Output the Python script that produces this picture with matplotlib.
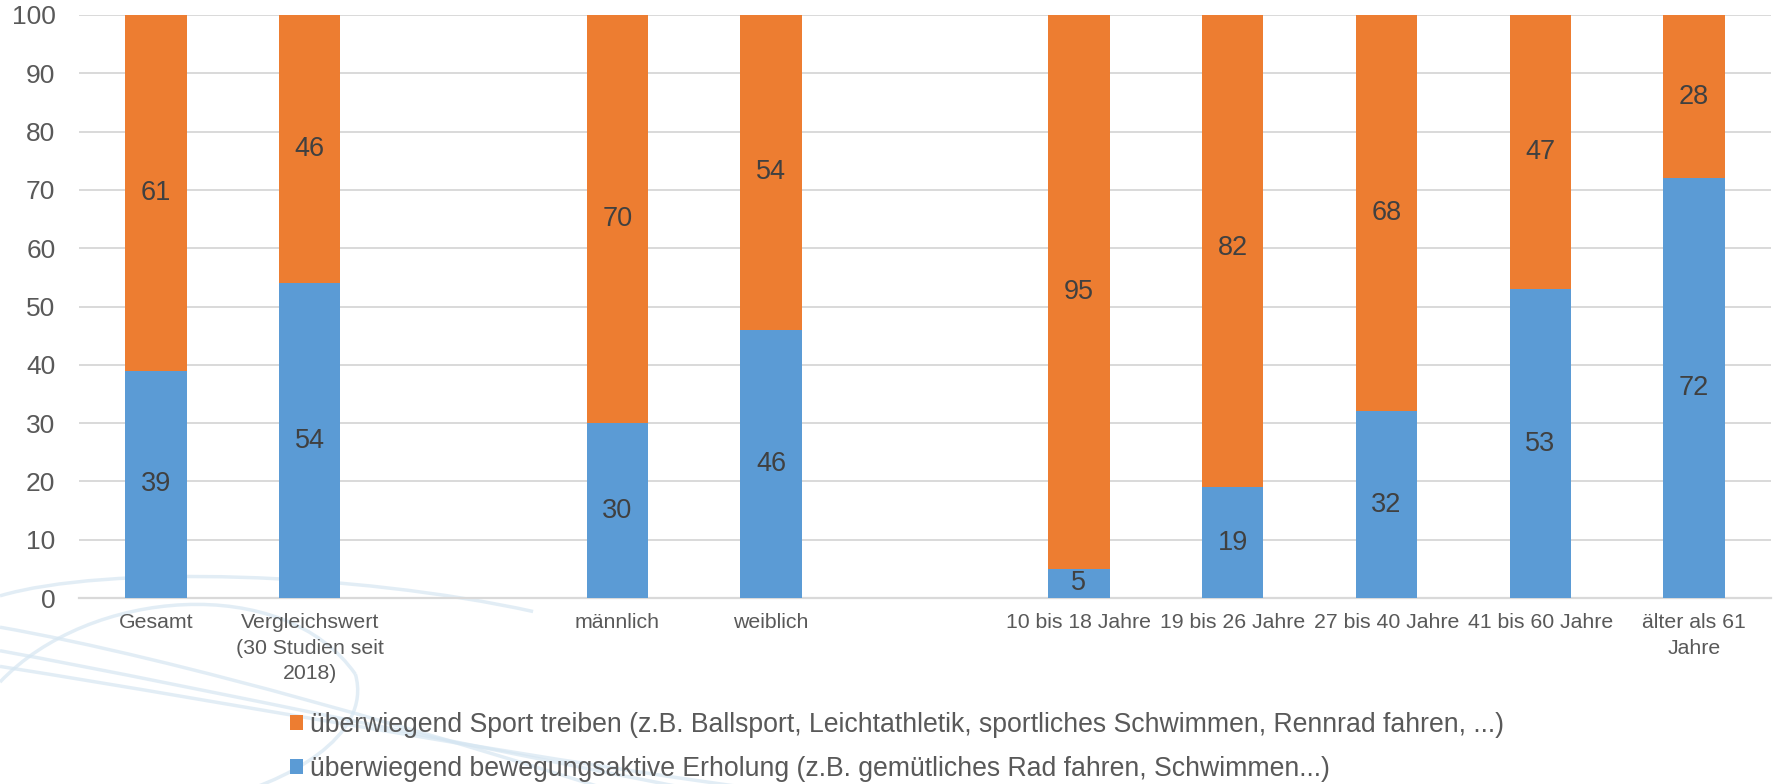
import matplotlib
matplotlib.use("Agg")
import matplotlib.pyplot as plt
from matplotlib.path import Path
from matplotlib.patches import PathPatch
import numpy as np

categories = ["Gesamt", "Vergleichswert\n(30 Studien seit\n2018)", "",
              "männlich", "weiblich", "",
              "10 bis 18 Jahre", "19 bis 26 Jahre", "27 bis 40 Jahre",
              "41 bis 60 Jahre", "älter als 61\nJahre"]
erholung = [39, 54, None, 30, 46, None, 5, 19, 32, 53, 72]
sport = [61, 46, None, 70, 54, None, 95, 82, 68, 47, 28]
yticks = [0, 10, 20, 30, 40, 50, 60, 70, 80, 90, 100]
label_sport = "überwiegend Sport treiben (z.B. Ballsport, Leichtathletik, sportliches Schwimmen, Rennrad fahren, ...)"
label_erholung = "überwiegend bewegungsaktive Erholung (z.B. gemütliches Rad fahren, Schwimmen...)"

ORANGE = "#ED7D31"
BLUE = "#5B9BD5"
GRID = "#D9D9D9"
TICK = "#595959"
LBL = "#404040"

plt.rcParams['font.family'] = ['Liberation Sans', 'DejaVu Sans']

fig = plt.figure(figsize=(17.77, 7.84), dpi=100)

# faint decorative swoosh in the background (lower left)
sw = "#D6E6F2"
curves = [
    [(0.0, 0.20), (0.10, 0.16), (0.25, 0.06), (0.36, -0.02)],
    [(0.0, 0.17), (0.12, 0.12), (0.28, 0.04), (0.42, -0.02)],
    [(0.0, 0.15), (0.14, 0.10), (0.30, 0.03), (0.47, -0.02)],
    [(0.0, 0.24), (0.06, 0.28), (0.20, 0.27), (0.30, 0.22)],
    [(0.0, 0.13), (0.05, 0.25), (0.16, 0.27), (0.20, 0.14)],
    [(0.20, 0.14), (0.21, 0.06), (0.16, 0.0), (0.12, -0.02)],
]
for c in curves:
    p = Path(c, [Path.MOVETO, Path.CURVE4, Path.CURVE4, Path.CURVE4])
    fig.add_artist(PathPatch(p, facecolor="none", edgecolor=sw, lw=2.5,
                             alpha=0.7, transform=fig.transFigure, zorder=0))

ax = fig.add_axes([79/1777, 1-598/784, (1771-79)/1777, (598-15)/784])
ax.patch.set_alpha(0)

x = np.arange(len(categories))
e = np.array([v if v is not None else np.nan for v in erholung], dtype=float)
s = np.array([v if v is not None else np.nan for v in sport], dtype=float)
w = 0.4
b1 = ax.bar(x, e, width=w, color=BLUE, zorder=3, label=label_erholung)
b2 = ax.bar(x, s, width=w, bottom=e, color=ORANGE, zorder=3, label=label_sport)

for xi, ev, sv in zip(x, erholung, sport):
    if ev is None:
        continue
    ax.text(xi, ev/2, f"{ev}", ha="center", va="center", fontsize=19.5, color=LBL, zorder=4)
    ax.text(xi, ev + sv/2, f"{sv}", ha="center", va="center", fontsize=19.5, color=LBL, zorder=4)

ax.set_xlim(-0.5, len(categories)-0.5)
ax.set_ylim(0, 100)
ax.set_yticks(yticks)
ax.set_yticklabels([str(t) for t in yticks], fontsize=19, color=TICK)
ax.set_xticks(x)
ax.set_xticklabels(categories, fontsize=15.3, color=TICK, linespacing=1.42)
ax.tick_params(axis='both', length=0)
ax.tick_params(axis='y', pad=17)
ax.tick_params(axis='x', pad=11)
ax.yaxis.grid(True, color=GRID, lw=1.4, zorder=0)
for sp in ["top", "right", "left"]:
    ax.spines[sp].set_visible(False)
ax.spines["bottom"].set_color(GRID)
ax.spines["bottom"].set_linewidth(1.6)

handles = [b2, b1]
labels = [label_sport, label_erholung]
fig.legend(handles, labels, loc="upper left", bbox_to_anchor=(290/1777, 1-712/784),
           frameon=False, fontsize=19.2, handlelength=0.5, handleheight=0.5,
           handletextpad=0.25, labelspacing=0.68, labelcolor=TICK, borderaxespad=0,
           borderpad=0)

fig.savefig("out.png", dpi=100)
